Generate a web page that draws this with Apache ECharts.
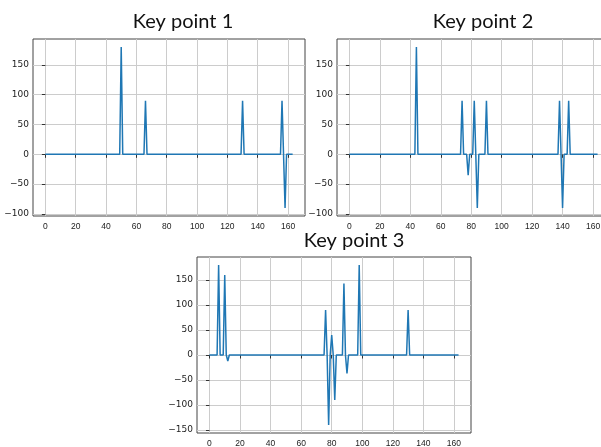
<!DOCTYPE html>
<html>
<head>
<meta charset="utf-8">
<script src="https://cdn.jsdelivr.net/npm/echarts@6/dist/echarts.min.js"></script>
<style>html,body{margin:0;padding:0;background:#fff;}#c{width:601px;height:447px;}</style>
</head>
<body>
<div id="c"></div>
<script>
// ---- data ----
var titles = ['Key point 1', 'Key point 2', 'Key point 3'];
var xTicks = [0, 20, 40, 60, 80, 100, 120, 140, 160];
var yTicks12 = [-100, -50, 0, 50, 100, 150];
var yTicks3 = [-150, -100, -50, 0, 50, 100, 150];

var kp1X = [0, 49, 50, 51, 65, 66, 67, 129, 130, 131, 155, 156, 157, 158, 159, 163];
var kp1Y = [0, 0, 180, 0, 0, 90, 0, 0, 90, 0, 0, 90, 0, -90, 0, 0];

var kp2X = [0, 43, 44, 45, 73, 74, 75, 77, 78, 79, 81, 82, 83, 84, 85, 89, 90, 91, 137, 138, 139, 140, 141, 143, 144, 145, 163];
var kp2Y = [0, 0, 180, 0, 0, 90, 0, 0, -35, 0, 0, 90, 0, -90, 0, 0, 90, 0, 0, 90, 0, -90, 0, 0, 90, 0, 0];

var kp3X = [0, 5, 6, 7, 9, 10, 11, 12, 13, 75, 76, 77, 78, 79, 80, 81, 82, 83, 87, 88, 89, 90, 91, 97, 98, 99, 129, 130, 131, 163];
var kp3Y = [0, 0, 180, 0, 0, 160, 0, -12, 0, 0, 90, 0, -140, 0, 40, 0, -90, 0, 0, 143, 0, -37, 0, 0, 180, 0, 0, 90, 0, 0];

function pairs(xs, ys) { return xs.map(function (x, i) { return [x, ys[i]]; }); }

var grids = [
  {left: 33, top: 39, width: 272, height: 177},
  {left: 337, top: 39, width: 273, height: 177},
  {left: 197, top: 257, width: 274, height: 176}
];
var yRanges = [[-103.5, 193.5], [-103.5, 193.5], [-156, 196]];
var yTickSets = [yTicks12, yTicks12, yTicks3];
var titlePos = [[183, 22], [483, 22], [354, 241]];
var seriesData = [pairs(kp1X, kp1Y), pairs(kp2X, kp2Y), pairs(kp3X, kp3Y)];

function fmt(v) { return v < 0 ? '\u2212' + Math.abs(v) : String(v); }

var option = {
  animation: false,
  backgroundColor: '#fff',
  grid: grids.map(function (g) {
    return Object.assign({show: true, borderColor: '#444', borderWidth: 1, backgroundColor: 'transparent', containLabel: false, outerBoundsMode: 'none'}, g);
  }),
  xAxis: grids.map(function (g, i) {
    return {
      type: 'value', gridIndex: i, min: -8.15, max: 171.15,
      axisLine: {show: false},
      axisTick: {show: true, customValues: xTicks, length: 3.5, lineStyle: {color: '#333'}},
      axisLabel: {customValues: xTicks, margin: 6, fontSize: 8.5, fontFamily: 'Liberation Sans', color: '#222', formatter: fmt},
      splitLine: {show: true, lineStyle: {color: '#cccccc', width: 1}}
    };
  }),
  yAxis: grids.map(function (g, i) {
    return {
      type: 'value', gridIndex: i, min: yRanges[i][0], max: yRanges[i][1],
      axisLine: {show: false},
      axisTick: {show: true, customValues: yTickSets[i], length: 3.5, lineStyle: {color: '#333'}},
      axisLabel: {customValues: yTickSets[i], margin: 4, fontSize: 9, fontFamily: 'DejaVu Sans', color: '#222', formatter: fmt},
      splitLine: {show: true, lineStyle: {color: '#cccccc', width: 1}}
    };
  }),
  series: seriesData.map(function (d, i) {
    return {
      type: 'line', xAxisIndex: i, yAxisIndex: i, data: d,
      symbol: 'none', clip: true,
      lineStyle: {color: '#1f77b4', width: 1.5},
      itemStyle: {color: '#1f77b4'}
    };
  }),
  graphic: titles.map(function (t, i) {
    return {
      type: 'text', x: titlePos[i][0], y: titlePos[i][1], z: 100,
      style: {text: t, align: 'center', verticalAlign: 'middle', font: '20px Lato', fill: '#111'}
    };
  })
};

var chart = echarts.init(document.getElementById('c'), null, {renderer: 'canvas'});
chart.setOption(option);
</script>
</body>
</html>
